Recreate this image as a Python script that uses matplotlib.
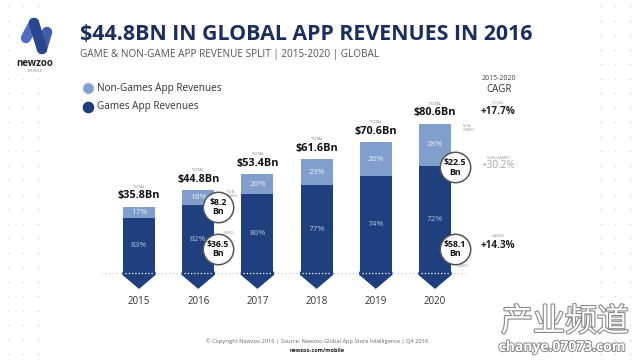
import matplotlib
matplotlib.use("Agg")
import matplotlib.pyplot as plt
import matplotlib.patheffects as pe
from matplotlib.patches import Polygon
import numpy as np

years = ["2015", "2016", "2017", "2018", "2019", "2020"]
totals = [35.8, 44.8, 53.4, 61.6, 70.6, 80.6]
nongames_pct = [17, 18, 20, 23, 26, 28]
games_pct = [83, 82, 80, 77, 74, 72]
callout_years = ["2016", "2020"]
callout_nongames = ["$8.2\nBn", "$22.5\nBn"]
callout_games = ["$36.5\nBn", "$58.1\nBn"]
cagr_labels = ["TOTAL", "NON-GAMES", "GAMES"]
cagr_values = ["+17.7%", "+30.2%", "+14.3%"]

DARK = "#1f3f7f"
LIGHT = "#819fcc"
NAVY_TXT = "#1c2f5c"
FONT = "Open Sans"

W, H = 640, 360
fig = plt.figure(figsize=(6.4, 3.6), dpi=100)
fig.patch.set_facecolor("white")

def fx(px):
    return px / W

def fy(py):
    return 1 - py / H

# background overlay axes in pixel coords
bg = fig.add_axes([0, 0, 1, 1])
bg.set_xlim(0, W)
bg.set_ylim(H, 0)
bg.axis("off")

# dot grid decoration
for cx in [8, 23, 38, 601, 615, 630]:
    for ry in np.arange(6, 360, 14.5):
        bg.plot(cx, ry, "o", ms=1.2, color="#d6d6d6", mec="none")

# logo
bg.add_patch(plt.Rectangle((17, 14), 40, 64, color="white", zorder=2))
bg.plot([26, 34], [38, 23], color="#4f6fbd", lw=7.5, solid_capstyle="round", zorder=3)
bg.plot([34, 42], [23, 49], color="#28478f", lw=7.5, solid_capstyle="round", zorder=4)
bg.plot([42, 47], [49, 32], color="#3d5ea8", lw=7.5, solid_capstyle="round", zorder=3)
bg.text(35, 63, "newzoo", fontsize=7, fontweight="bold", color="#222", ha="center", va="center", family=FONT, zorder=5)
bg.text(35, 71, "MOBILE", fontsize=3, color="#888", ha="center", va="center", family=FONT, zorder=5)

# title
bg.text(80, 34, "$44.8BN IN GLOBAL APP REVENUES IN 2016", fontsize=15.4, fontweight="bold",
        color=NAVY_TXT, ha="left", va="center", family=FONT)
bg.text(80, 54, "GAME & NON-GAME APP REVENUE SPLIT | 2015-2020 | GLOBAL", fontsize=7.2,
        color="#555", ha="left", va="center", family=FONT)

# legend
bg.plot(88, 88, "o", ms=7.5, color=LIGHT, mec="#a9bcdc", mew=0.8)
bg.plot(88, 107, "o", ms=7.5, color=DARK, mec="#1a346a", mew=0.8)
bg.text(97, 88, "Non-Games App Revenues", fontsize=7.2, color="#333", va="center", family=FONT)
bg.text(97, 107, "Games App Revenues", fontsize=7.2, color="#333", va="center", family=FONT)

# CAGR column
bg.text(499, 79, "2015-2020", fontsize=5, color="#444", ha="center", va="center", family=FONT)
bg.text(499, 89, "CAGR", fontsize=7, color="#333", ha="center", va="center", family=FONT)
cagr_y = [(103, 112), (158, 166), (236, 245)]
cagr_col = ["#222", "#aaaaaa", "#222"]
for (ly, vy), lab, val, c in zip(cagr_y, cagr_labels, cagr_values, cagr_col):
    bg.text(498, ly, lab, fontsize=2.8, color="#999", ha="center", va="center", family=FONT)
    bg.text(498, vy, val, fontsize=7.2, fontweight="bold" if c == "#222" else "normal",
            color=c, ha="center", va="center", family=FONT)

# footer
bg.text(317, 341, "© Copyright Newzoo 2016 | Source: Newzoo Global App Store Intelligence | Q4 2016",
        fontsize=4.1, color="#666", ha="center", va="center", family=FONT)
bg.text(317, 351, "newzoo.com/mobile", fontsize=4.0, fontweight="bold", color="#222",
        ha="center", va="center", family=FONT)

# chart axes: baseline at y=273 px, 1.85 px per Bn; bar i centre at 139 + 59.2 i px
ppb = 1.85
x_left, x_right = 100, 560
ax_bottom_px, ax_top_px = 305, 60
ax = fig.add_axes([fx(x_left), fy(ax_bottom_px), (x_right - x_left) / W, (ax_bottom_px - ax_top_px) / H])
ax.set_xlim((x_left - 139) / 59.2, (x_right - 139) / 59.2)
ax.set_ylim(-(ax_bottom_px - 273) / ppb, (273 - ax_top_px) / ppb)
ax.axis("off")
ax.patch.set_alpha(0)

xs = np.arange(len(years))
bw = 32 / 59.2
tot = np.array(totals)
g = tot * np.array(games_pct) / 100
ng = tot - g

ax.bar(xs, g, width=bw, color=DARK, zorder=2)
ax.bar(xs, ng, width=bw, bottom=g, color=LIGHT, zorder=2)

tip = 15 / ppb
side = 1.5 / ppb
for x in xs:
    ax.add_patch(Polygon([[x - bw / 2, 0.5], [x + bw / 2, 0.5], [x + bw / 2, -side],
                          [x, -tip], [x - bw / 2, -side]], closed=True, color=DARK, zorder=2))

# dotted baseline
ax.plot([-0.65, 5.55], [0, 0], linestyle=(0, (1, 2)), color="#cccccc", lw=0.9, zorder=1)
for x in xs:
    ax.plot([x - bw / 2 + 0.03, x + bw / 2 - 0.03], [0, 0], linestyle=(0, (1, 1.6)), color="white", lw=0.9, zorder=3)

# labels
for x, t, gp, npct, gv in zip(xs, tot, games_pct, nongames_pct, g):
    ax.text(x, gv / 2, f"{gp}%", color="#a9bde3", fontsize=6, ha="center", va="center", family=FONT, zorder=4)
    ax.text(x, gv + (t - gv) / 2, f"{npct}%", color="#e3eaf6", fontsize=6, ha="center", va="center", family=FONT, zorder=4)
    ax.text(x, t + 11 / ppb, f"${t}Bn", color="#111", fontsize=7.8, fontweight="bold",
            ha="center", va="center", family=FONT, zorder=4)
    ax.text(x, t + 20 / ppb, "TOTAL", color="#777", fontsize=2.8, ha="center", va="center", family=FONT, zorder=4)

# callouts
for yr, nglab, glab in zip(callout_years, callout_nongames, callout_games):
    i = years.index(yr)
    cx = i + 20 / 59.2
    ax.scatter([cx], [g[i] - 1], s=480, facecolor="white", edgecolor="#555", lw=1.1, zorder=5)
    ax.text(cx, g[i] - 1, nglab, fontsize=6.3, fontweight="bold", color="#111", ha="center",
            va="center", family=FONT, zorder=6, linespacing=1.1)
    ax.scatter([cx], [13], s=480, facecolor="white", edgecolor="#555", lw=1.1, zorder=5)
    ax.text(cx, 13, glab, fontsize=6.3, fontweight="bold", color="#111", ha="center",
            va="center", family=FONT, zorder=6, linespacing=1.1)
    ax.text(i + 28 / 59.2, tot[i] - 4 / ppb, "NON-\nGAMES", fontsize=2.6, color="#999", ha="left",
            va="center", family=FONT, zorder=4, linespacing=1.0)

ax.text(1 + 25 / 59.2, (273 - 233) / ppb, "GAMES", fontsize=2.6, color="#999", ha="left", va="center", family=FONT)
ax.text(5 + 22 / 59.2, (273 - 266) / ppb, "GAMES", fontsize=2.6, color="#999", ha="left", va="center", family=FONT)

for x, yl in zip(xs, years):
    ax.text(x, -(301 - 273) / ppb, yl, fontsize=7, color="#333", ha="center", va="center", family=FONT)

# watermark
wm = bg.text(565, 322, "产业频道", fontsize=23, color="white", ha="center", va="center",
             family=["Noto Sans CJK SC", "DejaVu Sans"], zorder=10)
wm.set_path_effects([pe.Stroke(linewidth=1.6, foreground="#8a8a8a"), pe.Normal()])
wm2 = bg.text(562, 347, "chanye.07073.com", fontsize=10, fontweight="bold", color="white", ha="center",
              va="center", family=FONT, zorder=10)
wm2.set_path_effects([pe.Stroke(linewidth=1.4, foreground="#8a8a8a"), pe.Normal()])

fig.savefig("out.png", dpi=100)
